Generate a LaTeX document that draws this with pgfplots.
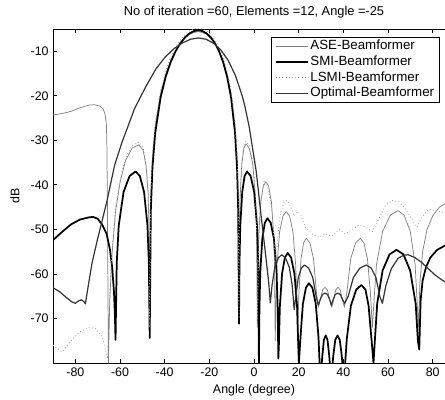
\documentclass[border=0pt]{standalone}
\usepackage{fontspec}
\setmainfont{Liberation Sans}
\usepackage{pgfplots}
\pgfplotsset{compat=1.18}
\begin{document}
\fontsize{9.3}{11}\selectfont
\begin{tikzpicture}
\begin{axis}[
  scale only axis, width=301.5pt, height=250.5pt,
  xmin=-90, xmax=90, ymin=-80, ymax=-5,
  xtick={-80,-60,-40,-20,0,20,40,60,80},
  xticklabels={-80,-60,-40,-20,0,20,40,60,80},
  ytick={-70,-60,-50,-40,-30,-20,-10},
  yticklabels={-70,-60,-50,-40,-30,-20,-10},
  tick align=inside, major tick length=3pt,
  axis line style={line width=0.6pt},
  every tick/.style={black, line width=0.6pt},
  title={No of iteration =60, Elements =12, Angle =-25},
  title style={at={(axis description cs:0.5,1.026)}, anchor=center, font=\fontsize{9.6}{11}\selectfont},
  xlabel={Angle (degree)},
  xlabel style={at={(axis description cs:0.5,-0.081)}, anchor=center},
  ylabel={dB},
  ylabel style={at={(axis description cs:-0.0945,0.5)}, anchor=center},
  legend style={at={(0.963,0.976)}, anchor=north east, draw=black, line width=0.6pt,
    inner xsep=3pt, inner ysep=0.6pt, row sep=0pt, font=\fontsize{10}{11}\selectfont,
    nodes={inner sep=1.2pt, text height=7.3pt, text depth=2.1pt}},
  legend cell align=left,
  legend image code/.code={\draw[#1] (0pt,0pt) -- (24pt,0pt);},
  every axis plot/.append style={line join=round, no markers},
]
% ASE
\addplot[color=black!50, line width=0.55pt] coordinates {
(-90,-24.3) (-86,-24.0) (-82,-23.5) (-78,-22.7) (-74,-22.1) (-71.5,-22.0) (-69,-22.3) (-67.5,-23.0) (-66.6,-24.3) (-66.1,-26.5) (-65.9,-30) (-65.7,-40) (-65.5,-55) (-65.3,-70) (-65.2,-80)
(-64.6,-66) (-63.5,-55) (-62,-46) (-60,-39.5) (-57.5,-34.5) (-54.5,-31.7) (-51.5,-31) (-49.6,-32.3) (-48.3,-35.8) (-47.4,-42) (-47.0,-50) (-46.7,-74)
(-46.21,-42.8) (-45.46,-33.8) (-44.23,-26.8) (-41.83,-19.5) (-39.53,-15.2) (-37.29,-12.1) (-35.12,-9.9) (-33.01,-8.3) (-30.94,-7.1) (-28.92,-6.2) (-26.94,-5.8) (-24.99,-5.6) (-23.08,-5.8) (-21.19,-6.2) (-19.32,-7.1) (-17.48,-8.3) (-15.65,-9.9) (-13.84,-12.1) (-12.05,-15.2) (-10.26,-19.5) (-8.49,-26.8) (-7.60,-33.8) (-7.07,-42.8) (-6.72,-71.2)
(-6.53,-51.3) (-6.22,-42.9) (-5.47,-35.4) (-4.54,-31.8) (-3.6,-30.8) (-2.07,-31.8) (-0.54,-35.4) (0.68,-42.9) (1.19,-51.3) (1.5,-72)
(1.73,-59.8) (2.11,-51.4) (3.02,-43.9) (4.16,-40.3) (5.3,-39.3) (6.56,-40.3) (7.82,-43.9) (8.83,-51.4) (9.25,-59.8) (9.5,-75)
(9.79,-66.5) (10.28,-58.1) (11.46,-50.6) (12.93,-47) (14.4,-46) (15.93,-47) (17.46,-50.6) (18.68,-58.1) (19.19,-66.5) (19.5,-74)
(20.12,-64.1) (21.06,-56.6) (22.23,-53) (23.4,-52) (25.02,-53) (26.64,-56.6) (27.94,-64.1) (28.8,-67.5)
(29.6,-66) (30.7,-63.6) (31.8,-63) (32.9,-63.6) (34,-66) (34.8,-67.5) (35.6,-66) (36.6,-63.6) (37.6,-63) (38.6,-63.6) (39.7,-66) (40.5,-67.5)
(41.6,-64.1) (43.3,-56.6) (45.5,-53) (47.6,-52) (49.2,-53) (50.8,-56.6) (52.1,-64.1) (53,-72)
(53.7,-66.3) (54.84,-57.9) (57.6,-50.4) (61.05,-46.8) (64.5,-45.8) (67.2,-46.8) (69.96,-50.4) (72.14,-57.9) (73.05,-66.3) (73.6,-72)
(74.3,-62) (75.5,-55) (77.5,-50) (80,-47) (83,-45) (86.3,-44) (90,-43.3)
};
\addlegendentry{ASE-Beamformer}
% SMI
\addplot[color=black, line width=1.3pt] coordinates {
(-90,-52.4) (-86,-50.6) (-82,-48.9) (-78,-47.8) (-74,-47.3) (-72,-47.2) (-70,-47.6) (-68,-48.9) (-66,-51) (-64.5,-54.5) (-63.5,-58.5) (-62.7,-64) (-62.3,-69) (-62,-74.8)
(-61.46,-57.5) (-60.56,-49.1) (-58.4,-41.6) (-55.7,-38) (-53,-37) (-51.11,-38) (-49.22,-41.6) (-47.71,-49.1) (-47.08,-57.5) (-46.7,-74.4)
(-46.21,-45.9) (-45.46,-36.0) (-44.23,-28.4) (-41.83,-20.4) (-39.53,-15.7) (-37.29,-12.4) (-35.12,-10.0) (-33.01,-8.2) (-30.94,-6.9) (-28.92,-6.0) (-26.94,-5.47) (-24.99,-5.3) (-23.08,-5.47) (-21.19,-6.0) (-19.32,-6.9) (-17.48,-8.2) (-15.65,-10.0) (-13.84,-12.4) (-12.05,-15.7) (-10.26,-20.4) (-8.49,-28.4) (-7.60,-36.0) (-7.07,-45.9) (-6.72,-71.2)
(-6.5,-57.5) (-6.14,-49.1) (-5.27,-41.6) (-4.19,-38) (-3.1,-37) (-1.51,-38) (0.08,-41.6) (1.35,-49.1) (1.88,-57.5) (2.2,-80)
(2.43,-68) (2.81,-59.6) (3.72,-52.1) (4.86,-48.5) (6.0,-47.5) (7.47,-48.5) (8.94,-52.1) (10.12,-59.6) (10.61,-68) (10.9,-79)
(11.15,-75.8) (11.57,-67.4) (12.58,-59.9) (13.84,-56.3) (15.1,-55.3) (16.6,-56.3) (18.1,-59.9) (19.3,-67.4) (19.8,-75.8) (20.1,-80)
(20.82,-74.2) (21.9,-66.7) (23.25,-63.1) (24.6,-62.1) (26.13,-63.1) (27.66,-66.7) (28.88,-74.2) (29.7,-84)
(30.6,-78.4) (31.3,-74.8) (32.1,-73.8) (32.9,-74.8) (33.7,-78.4) (34.5,-84)
(35.5,-78.4) (36.4,-74.8) (37.4,-73.8) (38.4,-74.8) (39.3,-78.4) (40.3,-84)
(41.55,-74.6) (43.4,-67.1) (45.8,-63.5) (48.1,-62.5) (49.9,-63.5) (51.3,-67.1) (52.6,-74.6) (53.5,-80)
(54.1,-75.1) (55.15,-66.7) (57.6,-59.2) (60.7,-55.6) (63.8,-54.6) (66.9,-55.6) (69.9,-59.2) (72.4,-66.7) (73.4,-75.1) (74,-77)
(74.6,-66) (75.5,-61.5) (77,-58.5) (79,-56.3) (82,-54.6) (86,-53.5) (90,-53)
};
\addlegendentry{SMI-Beamformer}
% LSMI
\addplot[color=black!38, line width=0.6pt, dash pattern=on 0.6pt off 1.8pt] coordinates {
(-90,-76) (-86,-77.5) (-82,-75) (-78,-73) (-74,-72) (-71,-72.3) (-68,-74) (-66.5,-77) (-65.5,-79)
(-64.6,-64) (-63.5,-54) (-62,-45) (-60,-38.8) (-57.5,-33.9) (-54.5,-31.1) (-51.5,-30.4) (-49.6,-31.7) (-48.3,-35.2) (-47.4,-41.4) (-47.0,-49.4) (-46.7,-72)
(-46.21,-42) (-45.46,-33) (-44.23,-26) (-41.83,-18.7) (-39.53,-14.4) (-37.29,-11.3) (-35.12,-9.1) (-33.01,-7.5) (-30.94,-6.3) (-28.92,-5.4) (-26.94,-5.0) (-24.99,-4.8) (-23.08,-5.0) (-21.19,-5.4) (-19.32,-6.3) (-17.48,-7.5) (-15.65,-9.1) (-13.84,-11.3) (-12.05,-14.4) (-10.26,-18.7) (-8.49,-26) (-7.60,-33) (-7.07,-42) (-6.72,-70)
(-6.53,-50.7) (-6.22,-42.3) (-5.47,-34.8) (-4.54,-31.2) (-3.6,-30.2) (-2.07,-31.2) (-0.54,-34.8) (0.68,-42.3) (1.19,-50.7) (1.6,-70)
(2.2,-52) (3.1,-43.5) (4.6,-39.0) (6.2,-40.5) (7.8,-45) (9.0,-52) (9.8,-58) (10.6,-52) (11.8,-46.5) (13.5,-43.8) (15,-43.5) (16.5,-45) (18,-47) (19.5,-46) (21,-46.8) (23,-49.5) (26,-51) (29,-51.8) (32,-51) (35,-51.5) (38,-50) (41,-51) (44,-50) (47,-49) (50,-49.5) (53,-50.5) (56,-47.5) (59,-44.5) (62,-43.5) (65,-43.8) (68,-45.5) (71,-48) (73,-49.5) (75,-47.5) (78,-45.5) (82,-45.8) (86,-46.5) (90,-47)
};
\addlegendentry{LSMI-Beamformer}
% Optimal
\addplot[color=black!80, line width=0.9pt] coordinates {
(-90,-63.1) (-87,-64) (-84,-65.3) (-81.5,-66.3) (-80,-66.6) (-78.7,-66.1) (-77.3,-65.8) (-76.2,-66.2) (-75.5,-66.7)
(-74,-62) (-72.5,-57.5) (-70.2,-52.5) (-66.0,-44.0) (-62.37,-35.5) (-59.14,-30.5) (-53.5,-22.9) (-48.5,-18.0) (-43.97,-14.0) (-39.76,-11.3) (-35.79,-9.4) (-32.0,-8.1) (-28.38,-7.3) (-24.87,-7.0) (-21.46,-7.3) (-18.12,-8.2) (-14.85,-9.7) (-11.63,-12.0) (-8.44,-15.3) (-5.28,-20.0) (-4.02,-22.5) (-2.14,-27.0) (1.0,-37.0) (3.2,-47.0) (5.72,-58.0) (6.6,-62) (7.3,-66.5)
(8.1,-62.5) (9.3,-58.5) (10.9,-56.4) (12.4,-55.7) (14.1,-56.4) (15.8,-58.5) (17.1,-62.5) (18,-68)
(18.74,-65) (19.84,-60.8) (21.22,-58.7) (22.6,-58) (24.46,-58.7) (26.3,-60.8) (27.8,-65) (28.8,-67)
(29.6,-65.8) (30.7,-64.6) (31.8,-64.3) (32.9,-64.6) (33.9,-65.8) (34.6,-67)
(35.4,-65.8) (36.4,-64.6) (37.5,-64.3) (38.6,-64.6) (39.7,-65.8) (40.6,-66.6)
(42.2,-65) (44.5,-60.8) (47.4,-58.7) (50.3,-58) (52.5,-58.7) (54.6,-60.8) (56.3,-65) (57.5,-66.6)
(59,-62.7) (61.5,-58.8) (64.5,-56.5) (67,-55.8) (69,-55.7) (72,-56.3) (75,-57.4) (78,-58.8) (81,-60.2) (84,-61.3) (86.3,-62) (90,-63)
};
\addlegendentry{Optimal-Beamformer}
\end{axis}
\pgfresetboundingbox
\path (-39.75pt,-27pt) rectangle (294pt,272.25pt);
\end{tikzpicture}
\end{document}
